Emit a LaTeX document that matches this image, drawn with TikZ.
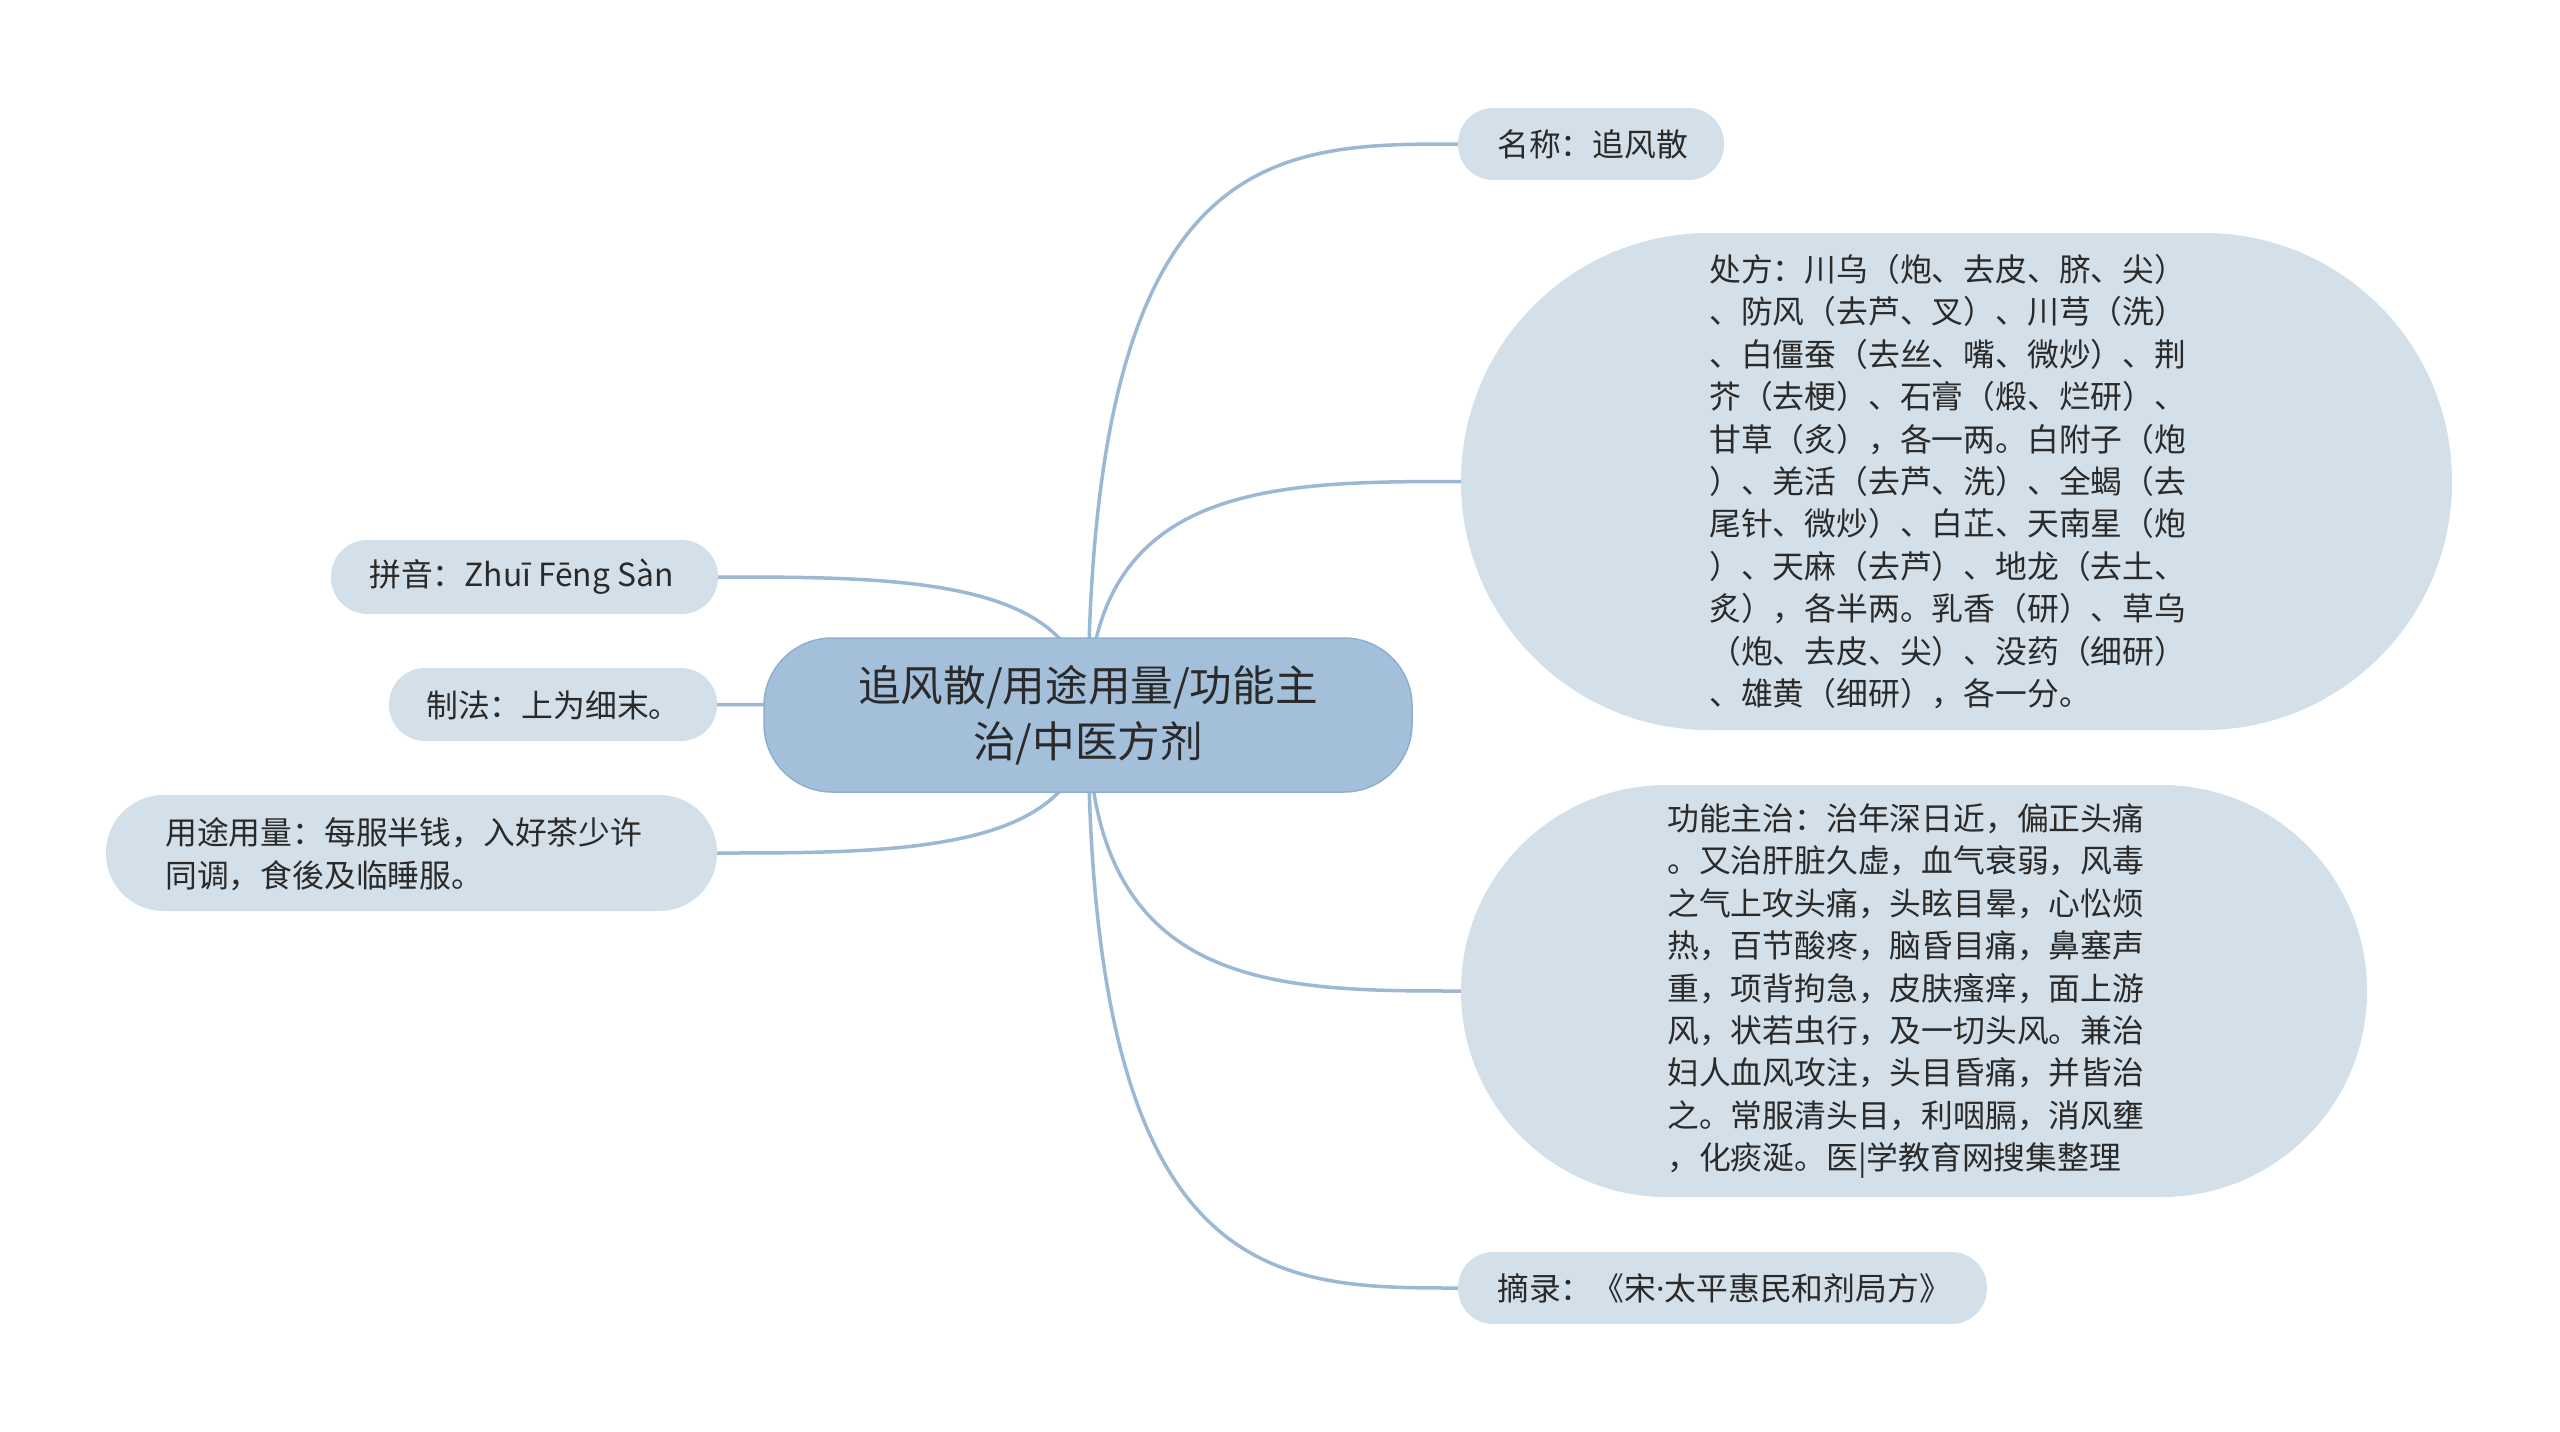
\documentclass[tikz,border=0pt]{standalone}
\usepackage{fontspec}
\setmainfont{Noto Sans CJK SC}
\newfontfamily\latinfont{Noto Sans}
\usetikzlibrary{calc}
\definecolor{kidfill}{HTML}{D3DFE9}
\definecolor{rootfill}{HTML}{A3BFDA}
\definecolor{rootdraw}{HTML}{8EAFD0}
\definecolor{linkc}{HTML}{9BB8D4}
\definecolor{txtc}{HTML}{2A2A2A}
\pgfdeclarelayer{bg}
\pgfsetlayers{bg,main}
\begin{document}
\begin{tikzpicture}[x=1pt,y=-1pt,
  kidbox/.style={fill=kidfill,inner sep=0pt,rectangle},
  rootbox/.style={fill=rootfill,draw=rootdraw,line width=1.5pt,inner sep=0pt,rectangle,
    minimum width=648,minimum height=154,rounded corners=68,
    align=center,text=txtc,font=\fontsize{42.6}{56}\selectfont},
  txt/.style={inner sep=0pt,anchor=west,align=left,text=txtc,font=\fontsize{31.8}{42.4}\selectfont},
  link/.style={draw=linkc,line width=3.5pt}
]
\useasboundingbox (0,0) rectangle (2560,1432);

% root
\node[rootbox] (root) at (1088,715) {追风散/用途用量/功能主\\治/中医方剂};

% right children boxes
\node[kidbox,minimum width=266,minimum height=72,rounded corners=35.5] (b1) at (1591,144) {};
\node[kidbox,minimum width=991,minimum height=497,rounded corners=248] (b2) at (1956.5,481.5) {};
\node[kidbox,minimum width=906,minimum height=412,rounded corners=205.5] (b3) at (1914,991) {};
\node[kidbox,minimum width=529,minimum height=72,rounded corners=35.5] (b4) at (1722.5,1288) {};
% left children boxes
\node[kidbox,minimum width=387,minimum height=74,rounded corners=36.5] (b5) at (524.5,577) {};
\node[kidbox,minimum width=328,minimum height=73,rounded corners=36] (b6) at (553,704.5) {};
\node[kidbox,minimum width=611,minimum height=116,rounded corners=57.5] (b7) at (411.5,853) {};

% texts
\node[txt] (t1) at (1497,144) {名称：追风散};
\node[txt] (t2) at (1709,481.5) {处方：川乌（炮、去皮、脐、尖）\\
、防风（去芦、叉）、川芎（洗）\\
、白僵蚕（去丝、嘴、微炒）、荆\\
芥（去梗）、石膏（煅、烂研）、\\
甘草（炙），各一两。白附子（炮\\
）、羌活（去芦、洗）、全蝎（去\\
尾针、微炒）、白芷、天南星（炮\\
）、天麻（去芦）、地龙（去土、\\
炙），各半两。乳香（研）、草乌\\
（炮、去皮、尖）、没药（细研）\\
、雄黄（细研），各一分。};
\node[txt] (t3) at (1667,991) {功能主治：治年深日近，偏正头痛\\
。又治肝脏久虚，血气衰弱，风毒\\
之气上攻头痛，头眩目晕，心忪烦\\
热，百节酸疼，脑昏目痛，鼻塞声\\
重，项背拘急，皮肤瘙痒，面上游\\
风，状若虫行，及一切头风。兼治\\
妇人血风攻注，头目昏痛，并皆治\\
之。常服清头目，利咽膈，消风壅\\
，化痰涎。医|学教育网搜集整理};
\node[txt] (t4) at (1497,1288) {摘录：《宋{\latinfont ·}太平惠民和剂局方》};
\node[txt] (t5) at (369,577) {拼音：Zhuī Fēng Sàn};
\node[txt] (t6) at (426,705) {制法：上为细末。};
\node[txt] (t7) at (165,854) {用途用量：每服半钱，入好茶少许\\同调，食後及临睡服。};

% connectors
\begin{pgfonlayer}{bg}
\draw[link] (root.center) .. controls (root.center |- b1.west) and ($(root.center |- b1.west)!0.5!(b1.west)$) .. (b1.west);
\draw[link] (root.center) .. controls (root.center |- b2.west) and ($(root.center |- b2.west)!0.5!(b2.west)$) .. (b2.west);
\draw[link] (root.center) .. controls (root.center |- b3.west) and ($(root.center |- b3.west)!0.5!(b3.west)$) .. (b3.west);
\draw[link] (root.center) .. controls (root.center |- b4.west) and ($(root.center |- b4.west)!0.5!(b4.west)$) .. (b4.west);
\draw[link] (root.center) .. controls (root.center |- b5.east) and ($(root.center |- b5.east)!0.5!(b5.east)$) .. (b5.east);
\draw[link] (root.center) .. controls (root.center |- b6.east) and ($(root.center |- b6.east)!0.5!(b6.east)$) .. (b6.east);
\draw[link] (root.center) .. controls (root.center |- b7.east) and ($(root.center |- b7.east)!0.5!(b7.east)$) .. (b7.east);
\end{pgfonlayer}
\end{tikzpicture}
\end{document}
